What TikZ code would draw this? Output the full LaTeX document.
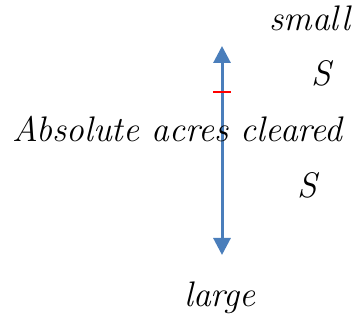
\documentclass[tikz,border=0pt]{standalone}
\usetikzlibrary{arrows.meta}
\definecolor{arrowblue}{HTML}{4A7EBB}
\tikzset{
  lbl/.style={anchor=base, inner sep=0pt, font=\fontsize{35.5}{42}\selectfont\itshape},
  axisarrow/.style={draw=arrowblue, line width=3pt, {Triangle[length=17pt,width=17pt]}-{Triangle[length=17pt,width=17pt]}},
  tick/.style={draw=red, line width=1.8pt}
}
\begin{document}
\begin{tikzpicture}[x=1pt,y=-1pt]
\useasboundingbox (0,0) rectangle (356,320);
\coordinate (top) at (222,46);
\coordinate (bot) at (222,255);
\coordinate (tl) at (213,92);
\coordinate (tr) at (231,92);
\draw[axisarrow] (bot) -- (top);
\draw[tick] (tl) -- (tr);
\node[lbl] (small) at (310,31) {small};
\node[lbl] (s1) at (321,86) {S};
\node[lbl] (main) at (177.5,142) {Absolute acres cleared};
\node[lbl] (s2) at (307,198) {S};
\node[lbl] (large) at (220,307) {large};
\end{tikzpicture}
\end{document}
